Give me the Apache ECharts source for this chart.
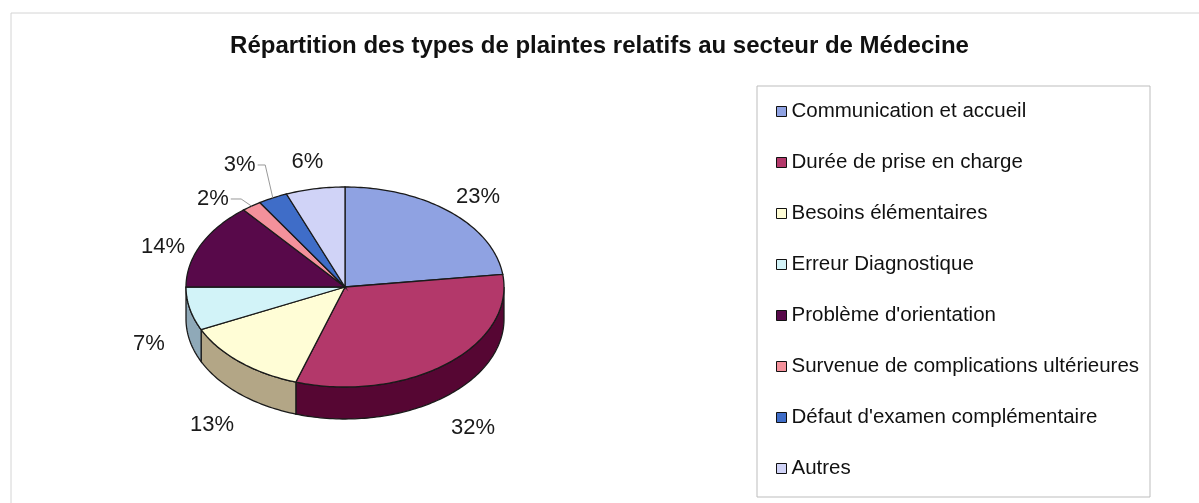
<!DOCTYPE html>
<html>
	<head>
		<meta charset="utf-8" />
		<title>Plaintes - secteur de Médecine</title>
		<style>
			html, body { margin: 0; padding: 0; background: #fff; }
			#chartmain { width: 1199px; height: 503px; }
		</style>
	</head>

	<body>
		<div id="chartmain"></div>
		<script type="text/javascript" src="https://cdn.jsdelivr.net/npm/echarts@6/dist/echarts.min.js"></script>
		<script type="text/javascript">
			// données (pourcentages)
			var categories = ['Communication et accueil', 'Durée de prise en charge', 'Besoins élémentaires', 'Erreur Diagnostique', "Problème d'orientation", 'Survenue de complications ultérieures', "Défaut d'examen complémentaire", 'Autres'];
			var values = [23, 32, 13, 7, 14, 2, 3, 6];

			var topColors = ['#8fa2e2', '#b3386a', '#fffdd6', '#d2f3f8', '#58094a', '#f4919b', '#3f6dc8', '#d0d3f7'];
			var sideColors = ['#5d6c9e', '#560633', '#b3a686', '#8fa9b8', '#33052a', '#a05a62', '#213f7a', '#8a8db0'];

			var font = '"Liberation Sans", Arial, sans-serif';
			// camembert incliné (ellipse + épaisseur)
			var cx = 345, cy = 287, rx = 159, ry = 100, depth = 32;
			var labelSize = 22;

			var total = values.reduce(function(a, b) { return a + b; }, 0);
			var startAngles = [], endAngles = [];
			var acc = 0;
			for(var i = 0; i < values.length; i++) {
				startAngles.push(acc / total * 2 * Math.PI);
				acc += values[i];
				endAngles.push(acc / total * 2 * Math.PI);
			}

			function pt(t, dy) {
				return [cx + rx * Math.sin(t), cy - ry * Math.cos(t) + (dy || 0)];
			}

			function arcPts(a, b, dy) {
				var n = Math.max(2, Math.ceil(Math.abs(b - a) / 0.02));
				var pts = [];
				for(var j = 0; j <= n; j++) {
					pts.push(pt(a + (b - a) * j / n, dy));
				}
				return pts;
			}

			// position des étiquettes : ellipse plus large centrée sur le volume
			var ctx = document.createElement('canvas').getContext('2d');
			ctx.font = labelSize + 'px ' + font;
			var labels = values.map(function(v, i) {
				var t = (startAngles[i] + endAngles[i]) / 2;
				var s = Math.sin(t), c = Math.cos(t);
				var mx = cx + (rx + 42) * s;
				var my = cy + depth * 0.6 + 5 - (ry + 52) * c;
				var text = Math.round(v / total * 100) + '%';
				var w = ctx.measureText(text).width, h = labelSize;
				return {text: text, x0: mx - w / 2, y0: my - h / 2, w: w, h: h, t: t, s: s, small: v < 5};
			});
			// petites étiquettes qui se chevauchent : on les écarte
			for(var i = 1; i < labels.length; i++) {
				var p = labels[i - 1], q = labels[i];
				var ox = Math.min(p.x0 + p.w, q.x0 + q.w) - Math.max(p.x0, q.x0);
				var oy = Math.min(p.y0 + p.h, q.y0 + q.h) - Math.max(p.y0, q.y0);
				if(ox > 0 && oy > 0) {
					var d = oy / 2 + 6;
					if(p.y0 >= q.y0) { p.y0 += d; q.y0 -= d; } else { p.y0 -= d; q.y0 += d; }
					p.x0 -= 14;
					q.x0 -= 14;
				}
			}

			function renderSlice(k) {
				return function(params, api) {
					var a1 = startAngles[k], a2 = endAngles[k];
					var children = [];
					// flanc visible (moitié avant)
					var f1 = Math.max(a1, Math.PI / 2), f2 = Math.min(a2, 3 * Math.PI / 2);
					if(f2 > f1) {
						children.push({
							type: 'polygon',
							shape: {points: arcPts(f1, f2, 0).concat(arcPts(f2, f1, depth))},
							style: {fill: sideColors[k], stroke: '#1a1a1a', lineWidth: 1.3}
						});
					}
					children.push({
						type: 'polygon',
						shape: {points: [[cx, cy]].concat(arcPts(a1, a2, 0))},
						style: {fill: api.visual('color'), stroke: '#1a1a1a', lineWidth: 1.3}
					});
					var lb = labels[k];
					if(lb.small) {
						var e = pt(lb.t, 0);
						var lx = lb.s < 0 ? lb.x0 + lb.w + 2 : lb.x0 - 2;
						var ly = lb.y0 + lb.h / 2;
						children.push({
							type: 'polyline',
							shape: {points: [[lx, ly], [lx + (e[0] - lx) * 0.5, ly], e]},
							style: {stroke: '#999', lineWidth: 1, fill: null}
						});
					}
					children.push({
						type: 'text',
						style: {
							text: lb.text, x: lb.x0 + lb.w / 2, y: lb.y0 + lb.h / 2,
							align: 'center', verticalAlign: 'middle',
							fontSize: labelSize, fontFamily: font, fill: '#1a1a1a'
						}
					});
					return {type: 'group', children: children};
				};
			}

			var series = categories.map(function(name, k) {
				return {
					name: name,
					type: 'custom',
					coordinateSystem: 'none',
					itemStyle: {color: topColors[k]},
					data: [values[k]],
					renderItem: renderSlice(k)
				};
			});

			var option = {
				backgroundColor: '#fff',
				animation: false,
				title: {
					text: 'Répartition des types de plaintes relatifs au secteur de Médecine',
					left: 'center',
					top: 29,
					textStyle: {fontFamily: font, fontSize: 24, fontWeight: 'bold', color: '#111'}
				},
				legend: {
					orient: 'vertical',
					left: 757,
					top: 86,
					padding: [15, 0, 18, 19],
					itemGap: 30,
					itemWidth: 10,
					itemHeight: 10,
					icon: 'rect',
					itemStyle: {borderColor: '#111', borderWidth: 1},
					textStyle: {fontFamily: font, fontSize: 20.5, lineHeight: 21, color: '#111'},
					data: categories
				},
				graphic: [
					{type: 'line', shape: {x1: 11, y1: 13, x2: 1199, y2: 13}, style: {stroke: '#d4d4d4', lineWidth: 1}, silent: true},
					{type: 'line', shape: {x1: 11, y1: 13, x2: 11, y2: 503}, style: {stroke: '#d4d4d4', lineWidth: 1}, silent: true},
					{type: 'rect', shape: {x: 757, y: 86, width: 393, height: 411}, style: {fill: null, stroke: '#bdbdbd', lineWidth: 1}, silent: true}
				],
				series: series
			};

			var myChart = echarts.init(document.getElementById('chartmain'));
			myChart.setOption(option);
		</script>
	</body>
</html>
